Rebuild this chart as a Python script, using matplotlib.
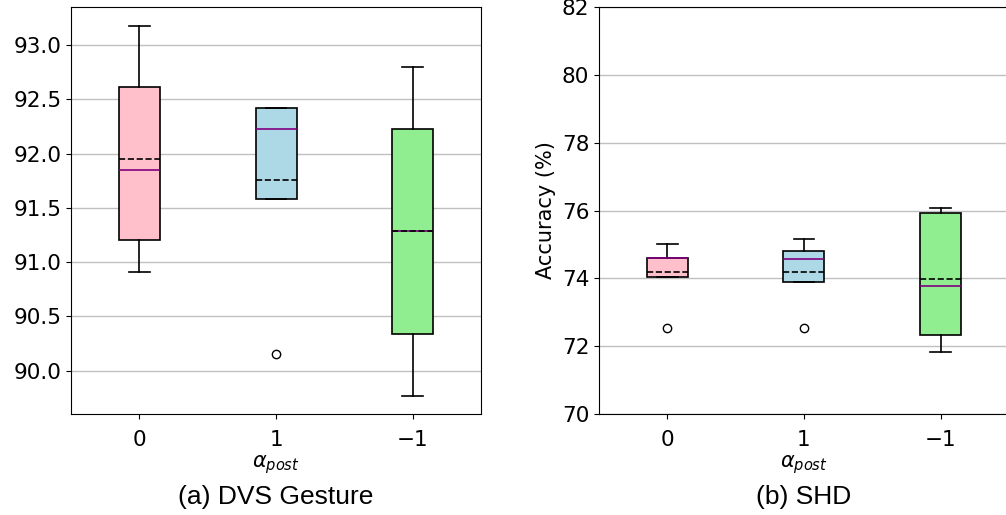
import matplotlib
matplotlib.use('Agg')
import matplotlib.pyplot as plt

# Valores (cuartiles, bigotes, medias y atipicos)
etiquetas = ['0', '1', '\u22121']
colores = ['pink', 'lightblue', 'lightgreen']

# (a) DVS Gesture
dvs_q1 = [91.20, 91.58, 90.34]
dvs_med = [91.85, 92.23, 91.29]
dvs_q3 = [92.61, 92.42, 92.23]
dvs_low = [90.91, 91.58, 89.77]
dvs_high = [93.18, 92.42, 92.80]
dvs_mean = [91.95, 91.76, 91.29]
dvs_fliers = [[], [90.15], []]

# (b) SHD
shd_q1 = [74.03, 73.90, 72.32]
shd_med = [74.61, 74.56, 73.76]
shd_q3 = [74.61, 74.80, 75.94]
shd_low = [74.03, 73.90, 71.83]
shd_high = [75.00, 75.15, 76.06]
shd_mean = [74.18, 74.20, 73.97]
shd_fliers = [[72.55], [72.55], []]


def stats(q1, med, q3, low, high, mean, fliers):
    return [dict(q1=q1[i], med=med[i], q3=q3[i], whislo=low[i], whishi=high[i],
                 mean=mean[i], fliers=fliers[i], label=etiquetas[i])
            for i in range(len(q1))]


def dibujar(ax, st, titulo, pad_y):
    bp = ax.bxp(st, widths=0.3, patch_artist=True, showmeans=True, meanline=True,
                medianprops=dict(color='purple', linewidth=1.2),
                meanprops=dict(color='black', linestyle='--', linewidth=1.2),
                boxprops=dict(edgecolor='black', linewidth=1.2),
                whiskerprops=dict(color='black', linewidth=1.2),
                capprops=dict(color='black', linewidth=1.2),
                flierprops=dict(marker='o', markerfacecolor='none',
                                markeredgecolor='black', markersize=6))
    for caja, c in zip(bp['boxes'], colores):
        caja.set_facecolor(c)
    ax.set_axisbelow(True)
    ax.yaxis.grid(True, color='#c0c0c0', linewidth=1)
    ax.tick_params(labelsize=15.5)
    ax.tick_params(axis='x', pad=8)
    ax.set_xlabel(r'$\alpha_{post}$', fontsize=15, labelpad=2)
    ax.set_ylabel('Accuracy (%)', fontsize=15, labelpad=pad_y)
    ax.text(0.5, -0.203, titulo, transform=ax.transAxes, ha='center', va='center',
            fontsize=19, family='Liberation Sans')


fig = plt.figure(figsize=(10.06, 5.15), dpi=100)
ax1 = fig.add_axes([0.0706, 0.1961, 0.4076, 0.7903])
ax2 = fig.add_axes([0.5954, 0.1961, 0.4076, 0.7903])

dibujar(ax1, stats(dvs_q1, dvs_med, dvs_q3, dvs_low, dvs_high, dvs_mean, dvs_fliers),
        '(a) DVS Gesture', 9)
dibujar(ax2, stats(shd_q1, shd_med, shd_q3, shd_low, shd_high, shd_mean, shd_fliers),
        '(b) SHD', 4)
ax2.set_ylim(70, 82)

fig.savefig('out.png', dpi=100)
